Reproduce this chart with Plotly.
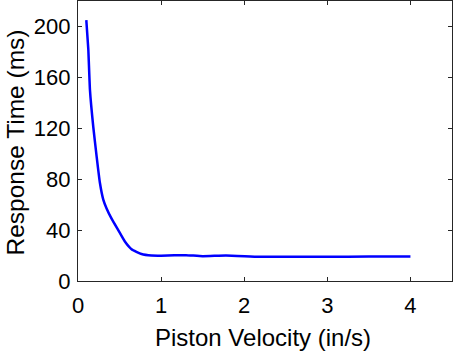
import plotly.graph_objects as go

velocity = [0.10, 0.124, 0.144, 0.184, 0.224, 0.264, 0.304, 0.344, 0.404, 0.484, 0.564, 0.644, 0.764, 0.884,
            1.0, 1.16, 1.30, 1.50, 1.78, 2.18, 2.6, 3.0, 3.5, 4.0]
response = [205, 182, 150, 121, 98, 77, 64, 57, 49, 40, 31, 25, 21.2, 20,
            19.9, 20.2, 20.3, 19.5, 20, 19, 19, 19, 19.3, 19.2]

x_ticks = [0, 1, 2, 3, 4]
y_ticks = [0, 40, 80, 120, 160, 200]

FONT = "Liberation Sans, Arial"
fig = go.Figure()
fig.add_trace(go.Scatter(x=velocity, y=response, mode="lines",
                         line=dict(color="#0000ff", width=2.5, shape="spline", smoothing=0.4)))

axis_common = dict(showline=True, linecolor="#262626", linewidth=1.2, mirror="ticks",
                   ticks="inside", ticklen=4, tickcolor="#262626", showgrid=False,
                   zeroline=False, automargin=False,
                   tickfont=dict(family=FONT, size=22, color="black"))
fig.update_xaxes(range=[0, 4.5], tickvals=x_ticks, ticklabelstandoff=4, **axis_common)
fig.update_yaxes(range=[0, 220], tickvals=y_ticks, ticklabelstandoff=2, **axis_common)
fig.add_annotation(text="Piston Velocity (in/s)", xref="paper", yref="paper",
                   x=(263 - 78) / 374, y=-(337 - 281) / 280, xanchor="center", yanchor="middle",
                   showarrow=False, font=dict(family=FONT, size=24, color="black"))
fig.add_annotation(text="Response Time (ms)", xref="paper", yref="paper",
                   x=-(78 - 15) / 374, y=(281 - 142.5) / 280, xanchor="center", yanchor="middle",
                   textangle=-90, showarrow=False, font=dict(family=FONT, size=24.5, color="black"))
fig.update_layout(width=454, height=351, margin=dict(l=78, r=2, t=1, b=70),
                  plot_bgcolor="white", paper_bgcolor="white", showlegend=False)
fig.write_html("out.html", config={"displayModeBar": False},
               post_script="document.body.style.margin='0px';document.body.style.overflow='hidden';")
